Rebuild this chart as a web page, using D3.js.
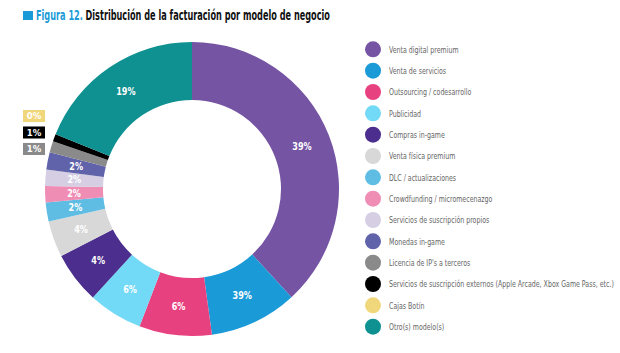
<!DOCTYPE html>
<html><head><meta charset="utf-8">
<script src="https://cdn.jsdelivr.net/npm/d3@7"></script>
<style>
body{margin:0;background:#fff;}
svg{display:block;}
</style></head>
<body>
<svg id="c" width="620" height="353"></svg>
<script>
const categories = ["Venta digital premium","Venta de servicios","Outsourcing / codesarrollo","Publicidad","Compras in-game","Venta física premium","DLC / actualizaciones","Crowdfunding / micromecenazgo","Servicios de suscripción propios","Monedas in-game","Licencia de IP's a terceros","Servicios de suscripción externos (Apple Arcade, Xbox Game Pass, etc.)","Cajas Botín","Otro(s) modelo(s)"];
const values = [38.3, 9.7, 8.0, 6.0, 5.7, 4.0, 2.1, 1.8, 1.8, 1.9, 1.25, 0.8, 0, 19.0];
const labels = ["39%","39%","6%","6%","4%","4%","2%","2%","2%","2%","1%","1%","0%","19%"];
const colors = ["#7654a4","#1b9ad8","#e8417f","#72d9f6","#4b2e8d","#d8d8d8","#5fbde3","#f08db5","#d6cfe4","#6062aa","#8a8a8a","#000000","#f1d77c","#0f9191"];
const boxed = ["Cajas Botín","Servicios de suscripción externos (Apple Arcade, Xbox Game Pass, etc.)","Licencia de IP's a terceros"];
const titleLead = "Figura 12.";
const titleRest = "Distribución de la facturación por modelo de negocio";

const svg = d3.select("#c");
const F = "'DejaVu Sans Condensed','Liberation Sans Narrow',sans-serif";

// title
svg.append("rect").attr("x",23).attr("y",11).attr("width",10).attr("height",9).attr("fill","#1b9ad8");
const tg = svg.append("g").attr("transform","translate(36,20)");
const t1 = tg.append("text").attr("font-family",F).attr("font-weight","bold").attr("font-size",13.5)
  .attr("fill","#1b9ad8").text(titleLead);
const t2 = tg.append("text").attr("font-family",F).attr("font-weight","bold").attr("font-size",13.5)
  .attr("fill","#111").text(titleRest);
{
  const w1 = t1.node().getComputedTextLength(), w2 = t2.node().getComputedTextLength();
  const gap = 4;
  const k = Math.min(1, 294 / (w1 + w2 + gap));
  t2.attr("x", w1 + gap);
  tg.attr("transform", `translate(36,20) scale(${k},1)`);
}

// donut
const cx = 192, cy = 189, R = 147, r0 = 89;
const g = svg.append("g").attr("transform",`translate(${cx},${cy})`);
const data = categories.map((c,i)=>({c, v:values[i], l:labels[i], col:colors[i]}));
const pie = d3.pie().value(d=>d.v).sort(null);
const arc = d3.arc().innerRadius(r0).outerRadius(R);
const arcs = pie(data);
g.selectAll("path").data(arcs).join("path").attr("d",arc).attr("fill",d=>d.data.col);
g.selectAll("text.lbl").data(arcs.filter(d=>!boxed.includes(d.data.c))).join("text")
  .attr("class","lbl")
  .attr("transform",d=>`translate(${arc.centroid(d)}) scale(0.9,1)`)
  .attr("text-anchor","middle").attr("dy","0.35em")
  .attr("font-family",F).attr("font-weight","bold").attr("font-size",10)
  .attr("fill","#fff").text(d=>d.data.l);

// boxed labels
const bx = d3.scaleBand().domain(boxed).range([110,155]).paddingInner(0.27);
const bg = svg.selectAll("g.box").data(data.filter(d=>boxed.includes(d.c)).sort((a,b)=>boxed.indexOf(a.c)-boxed.indexOf(b.c))).join("g")
  .attr("class","box").attr("transform",d=>`translate(23,${bx(d.c)})`);
bg.append("rect").attr("width",22).attr("height",bx.bandwidth()).attr("fill",d=>d.col);
bg.append("text").attr("x",11).attr("y",bx.bandwidth()/2).attr("dy","0.35em").attr("text-anchor","middle")
  .attr("font-family",F).attr("font-weight","bold").attr("font-size",9.5).attr("fill","#fff").text(d=>d.l);

// legend
const ly = d3.scalePoint().domain(categories).range([49.3,326.7]);
const lg = svg.selectAll("g.leg").data(data).join("g").attr("class","leg")
  .attr("transform",d=>`translate(373,${ly(d.c)})`);
lg.append("circle").attr("r",8).attr("fill",d=>d.col);
const lt = lg.append("text").attr("dy","0.35em").attr("font-family",F).attr("font-size",9.5)
  .attr("fill","#666").text(d=>d.c);
{
  const maxw = d3.max(lt.nodes(), n=>n.getComputedTextLength());
  const k = Math.min(1, 225 / maxw);
  lt.attr("transform", `translate(16,0) scale(${k},1)`);
}
</script>
</body></html>
